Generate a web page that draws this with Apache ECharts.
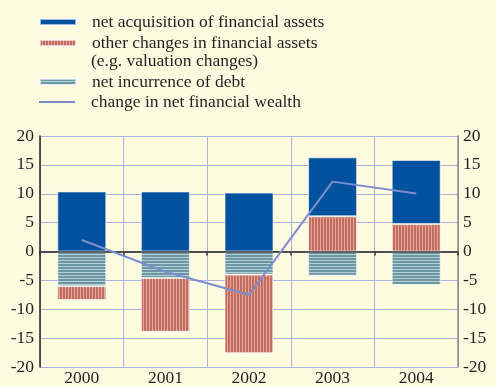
<!DOCTYPE html>
<html>
<head>
<meta charset="utf-8">
<script src="https://cdn.jsdelivr.net/npm/echarts@6/dist/echarts.min.js"></script>
<style>
  html, body { margin: 0; padding: 0; background: #fffbe1; }
  #chart { width: 496px; height: 387px; }
</style>
</head>
<body>
<div id="chart"></div>
<script>
// Household financial flows, percentage points
var years = ['2000', '2001', '2002', '2003', '2004'];
var netAcquisition = [10.4, 10.4, 10.2, 10.2, 11.1];
var otherChanges = [-2.4, -9.3, -13.6, 6.1, 4.75];
var netDebt = [-6.0, -4.6, -4.0, -4.2, -5.8];
var netWealthChange = [2.0, -3.5, -7.5, 12.1, 10.05];
var yTicks = [-20, -15, -10, -5, 0, 5, 10, 15, 20];

var NAMES = {
  acq: 'net acquisition of financial assets',
  other: 'other changes in financial assets',
  debt: 'net incurrence of debt',
  wealth: 'change in net financial wealth'
};

// Striped fills built on small canvases
function stripes(w, h, dark, light, vertical) {
  var c = document.createElement('canvas');
  c.width = w; c.height = h;
  var ctx = c.getContext('2d');
  ctx.fillStyle = dark;
  ctx.fillRect(0, 0, w, h);
  ctx.fillStyle = light;
  if (vertical) ctx.fillRect(w - 1, 0, 1, h);
  else ctx.fillRect(0, h - 1, w, 1);
  return { image: c, repeat: 'repeat' };
}
var redFill = stripes(3, 3, '#c26d60', '#e3a797', true);
var tealFill = stripes(3, 3, '#6c98a5', '#b4cfd3', false);

var FONT = '"Liberation Serif", "Times New Roman", serif';
var FS = 17.5;
var TEXT = '#231f20';
var GRID_C = '#a9b3e0';

var chart = echarts.init(document.getElementById('chart'), null, { renderer: 'canvas' });

function legendAt(name, top, h) {
  return {
    data: [{ name: name, icon: 'rect' }],
    left: 39, top: top, padding: 0,
    itemWidth: 36, itemHeight: h,
    selectedMode: false,
    textStyle: { fontFamily: FONT, fontSize: FS, color: TEXT, lineHeight: 20, padding: [0, 0, 0, 11] }
  };
}

var option = {
  backgroundColor: '#fffbe1',
  animation: false,
  legend: [
    legendAt(NAMES.acq, 12, 6),
    legendAt(NAMES.other, 33, 6),
    legendAt(NAMES.debt, 72, 6),
    legendAt(NAMES.wealth, 92, 2)
  ],
  graphic: [{
    type: 'text', x: 91, y: 61,
    style: { text: '(e.g. valuation changes)', font: FS + 'px ' + FONT, fill: TEXT, verticalAlign: 'middle' }
  }],
  grid: { left: 40, right: 38, top: 136, bottom: 19, containLabel: false },
  xAxis: {
    type: 'category',
    data: years,
    boundaryGap: true,
    axisLine: { show: true, lineStyle: { color: '#333', width: 1.5 } },
    axisTick: { show: true, inside: false, length: 4, lineStyle: { color: '#333', width: 1.5 } },
    axisLabel: { fontFamily: FONT, fontSize: FS, color: TEXT, margin: 2 },
    splitLine: { show: true, lineStyle: { color: GRID_C, width: 1 } }
  },
  yAxis: [{
    type: 'value', min: yTicks[0], max: yTicks[yTicks.length - 1], interval: 5,
    axisLine: { show: true, lineStyle: { color: '#222', width: 1.5 } },
    axisTick: { show: false },
    axisLabel: { fontFamily: FONT, fontSize: FS, color: TEXT, margin: 6 },
    splitLine: { show: true, lineStyle: { color: GRID_C, width: 1 } }
  }, {
    type: 'value', min: yTicks[0], max: yTicks[yTicks.length - 1], interval: 5,
    position: 'right',
    axisLine: { show: true, lineStyle: { color: '#8a8a8a', width: 1.5 } },
    axisTick: { show: false },
    axisLabel: { fontFamily: FONT, fontSize: FS, color: TEXT, margin: 5 },
    splitLine: { show: false }
  }],
  series: [{
    name: NAMES.debt, type: 'bar', stack: 'flows', barWidth: 49,
    data: netDebt,
    itemStyle: { color: tealFill, borderColor: 'rgba(255,255,255,0.6)', borderWidth: 1 },
    markLine: {
      silent: true, symbol: 'none', label: { show: false },
      lineStyle: { color: '#4a4a4a', width: 1.5, type: 'solid' },
      data: [{ yAxis: 0 }]
    }
  }, {
    name: NAMES.other, type: 'bar', stack: 'flows', barWidth: 49,
    data: otherChanges,
    itemStyle: { color: redFill, borderColor: 'rgba(255,255,255,0.6)', borderWidth: 1 }
  }, {
    name: NAMES.acq, type: 'bar', stack: 'flows', barWidth: 49,
    data: netAcquisition,
    itemStyle: { color: '#00519e', borderColor: 'rgba(255,255,255,0.6)', borderWidth: 1 }
  }, {
    name: NAMES.wealth, type: 'line',
    data: netWealthChange,
    symbol: 'none',
    z: 5,
    itemStyle: { color: '#7d8ed0' },
    lineStyle: { color: '#7d8ed0', width: 2 }
  }]
};

chart.setOption(option);
</script>
</body>
</html>
